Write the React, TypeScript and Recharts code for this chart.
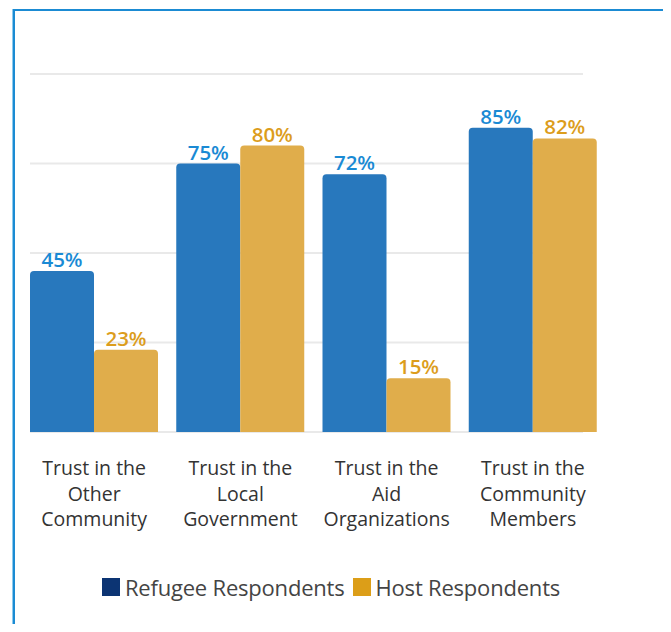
import { BarChart, Bar, XAxis, YAxis, CartesianGrid, LabelList, Legend } from "recharts";

const categories = [
  "Trust in the\nOther\nCommunity",
  "Trust in the\nLocal\nGovernment",
  "Trust in the\nAid\nOrganizations",
  "Trust in the\nCommunity\nMembers",
];
const refugee = [45, 75, 72, 85];
const host = [23, 80, 15, 82];
const yTicks = [0, 25, 50, 75, 100];

const data = categories.map((name, i) => ({ name, refugee: refugee[i], host: host[i] }));

const FONT = "'Open Sans', sans-serif";

function CategoryTick(props: any) {
  const { x, y, payload } = props;
  const lines = String(payload.value).split("\n");
  return (
    <text x={x} y={y} textAnchor="middle" fill="#333" fontSize={19.5} fontFamily={FONT}>
      {lines.map((l, i) => (
        <tspan key={i} x={x} y={y + 43 + i * 25.5}>
          {l}
        </tspan>
      ))}
    </text>
  );
}

function GridLine(props: any) {
  const { x1, x2, y1, y2 } = props;
  return <line x1={x1 + 9} x2={x2 - 23} y1={y1} y2={y2} stroke="#e9e9e9" strokeWidth={2} />;
}

function LegendContent() {
  const items = [
    { label: "Refugee Respondents", color: "#0c3473" },
    { label: "Host Respondents", color: "#dc9e18" },
  ];
  return (
    <div style={{ display: "flex", justifyContent: "center", alignItems: "center", height: 28, fontFamily: FONT }}>
      {items.map((it) => (
        <div key={it.label} style={{ display: "flex", alignItems: "center", marginRight: 8 }}>
          <span style={{ width: 18, height: 18, background: it.color, display: "inline-block", marginRight: 5 }} />
          <span style={{ fontSize: 22, color: "#444", letterSpacing: -0.2 }}>{it.label}</span>
        </div>
      ))}
    </div>
  );
}

export default function App() {
  return (
    <div style={{ position: "relative", width: 671, height: 632, margin: -8, overflow: "hidden", fontFamily: FONT, background: "#fff" }}>
      <div
        style={{
          position: "absolute",
          left: 13,
          top: 9,
          width: 652,
          height: 700,
          border: "2px solid #1b8bd3",
          boxShadow: "-1px 0 0 #8ccaee",
        }}
      />
      <div style={{ position: "absolute", left: 0, top: 0 }}>
        <BarChart
          width={671}
          height={632}
          data={data}
          margin={{ top: 74, right: 65, left: 21, bottom: 0 }}
          barSize={64}
          barGap={0}
        >
          <CartesianGrid vertical={false} horizontal={<GridLine />} />
          <YAxis hide domain={[0, 100]} ticks={yTicks} />
          <XAxis
            dataKey="name"
            height={200}
            axisLine={false}
            tickLine={false}
            tickSize={0}
            tickMargin={0}
            interval={0}
            tick={<CategoryTick />}
          />
          <Legend
            verticalAlign="middle"
            align="center"
            content={<LegendContent />}
            wrapperStyle={{ top: 573, left: 0, width: 670 }}
          />
          <Bar dataKey="refugee" fill="#2878bd" radius={[4, 4, 0, 0]} isAnimationActive={false}>
            <LabelList
              dataKey="refugee"
              position="top"
              offset={4}
              formatter={(v: any) => `${v}%`}
              fill="#1a8ad4"
              fontSize={20.5}
              fontWeight={600}
              fontFamily={FONT}
            />
          </Bar>
          <Bar dataKey="host" fill="#e0ad4b" radius={[4, 4, 0, 0]} isAnimationActive={false}>
            <LabelList
              dataKey="host"
              position="top"
              offset={4}
              formatter={(v: any) => `${v}%`}
              fill="#dc9d1c"
              fontSize={20.5}
              fontWeight={600}
              fontFamily={FONT}
            />
          </Bar>
        </BarChart>
      </div>
    </div>
  );
}
